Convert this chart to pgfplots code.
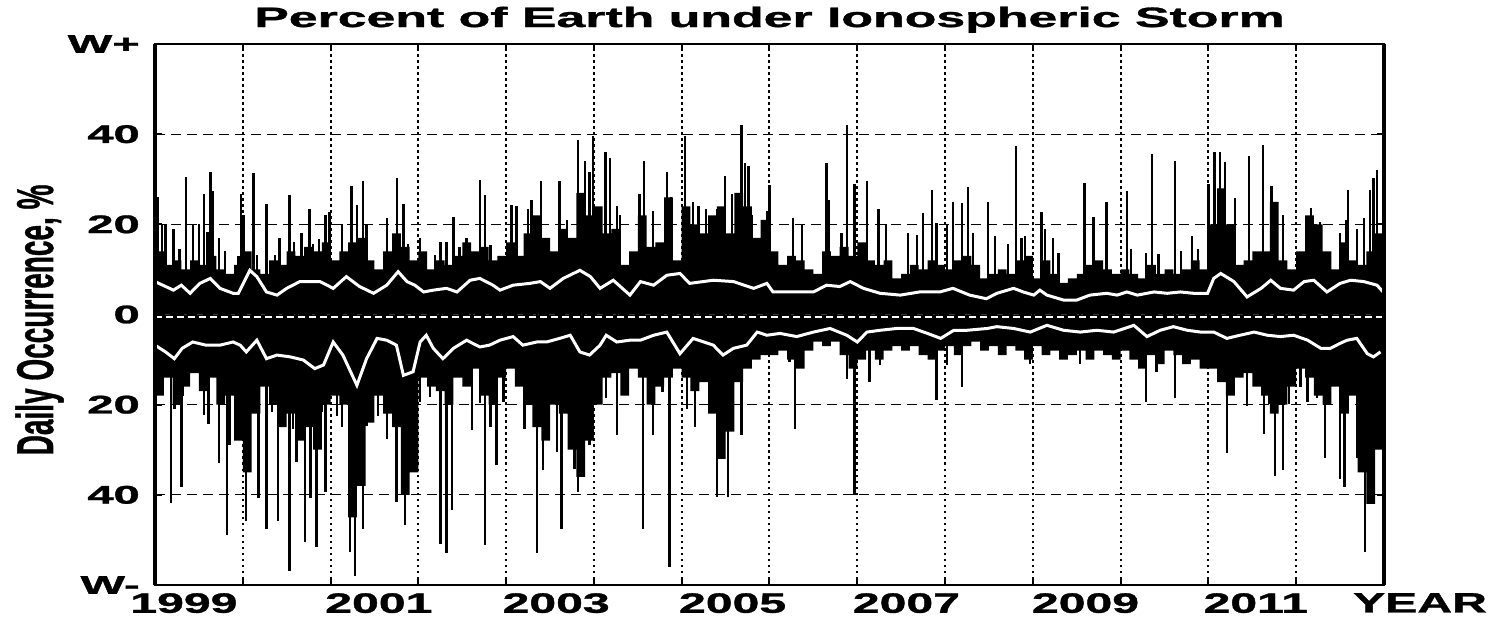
\documentclass[border=0pt]{standalone}
\usepackage{pgfplots}
\pgfplotsset{compat=1.18}
\usepackage{fontspec}
\setmainfont{Liberation Sans}[BoldFeatures={FakeBold=1}]
\newcommand{\ttl}[1]{\scalebox{1.85}[1]{\fontsize{28bp}{30bp}\selectfont\bfseries #1}}
\newcommand{\yt}[1]{\scalebox{1.85}[1]{\fontsize{25.5bp}{26bp}\selectfont\bfseries #1}}
\newcommand{\xt}[1]{\scalebox{1.72}[1]{\fontsize{28bp}{30bp}\selectfont\bfseries #1}}
\newcommand{\yl}[1]{\scalebox{1}[1.85]{\fontsize{28bp}{30bp}\selectfont\bfseries #1}}
\begin{document}
\begin{tikzpicture}
\useasboundingbox (-155bp,-38bp) rectangle (1340bp,585bp);
\begin{axis}[
  at={(0,0)}, anchor=south west,
  scale only axis, width=1229bp, height=541bp,
  xmin=1999, xmax=2013, ymin=-60, ymax=60,
  clip mode=individual,
  xtick={1999,2000,...,2013},
  xticklabels={},
  ytick={-60,-40,-20,0,20,40,60},
  yticklabels={\yt{W-},\yt{40},\yt{20},\yt{0},\yt{20},\yt{40},\yt{W+}},
  extra x ticks={1999.33,2001.55,2003.57,2005.58,2007.56,2009.60,2011.54},
  extra x tick labels={\xt{1999},\xt{2001},\xt{2003},\xt{2005},\xt{2007},\xt{2009},\xt{2011}},
  extra x tick style={grid=none, tick style={draw=none}},
  xmajorgrids, ymajorgrids,
  x grid style={black, line width=2bp, dash pattern=on 2.5bp off 3.5bp},
  y grid style={black, line width=1.3bp, dash pattern=on 10bp off 6bp},
  axis line style={black, line width=2.5bp},
  tick style={black, line width=2bp},
  major tick length=7bp,
  tick align=inside,
  xticklabel style={inner sep=0pt, anchor=north, yshift=-8bp},
  yticklabel style={inner sep=0pt, anchor=east, xshift=-15bp},
  title={\ttl{Percent of Earth under Ionospheric Storm}},
  title style={at={(0.5,1)}, anchor=base, yshift=11bp, inner sep=0pt},
  ylabel={\yl{Daily Occurrence, \%}},
  ylabel style={at={(axis description cs:-0.083,0.49)}, anchor=base, inner sep=0pt},
]
% dense positive envelope
\addplot[const plot, fill=black, draw=none] table {
x y
1999.0 14
1999.1 11
1999.2 12
1999.3 10
1999.4 12
1999.5 11
1999.6 13
1999.7 10
1999.8 9
1999.9 11
2000.0 14
2000.1 10
2000.2 9
2000.3 12
2000.4 11
2000.5 14
2000.6 13
2000.7 15
2000.8 14
2000.9 16
2001.0 12
2001.1 14
2001.2 16
2001.3 17
2001.4 12
2001.5 10
2001.6 14
2001.7 18
2001.8 15
2001.9 12
2002.0 14
2002.1 10
2002.2 12
2002.3 11
2002.4 13
2002.5 16
2002.6 14
2002.7 15
2002.8 12
2002.9 13
2003.0 16
2003.1 13
2003.2 18
2003.3 22
2003.4 17
2003.5 14
2003.6 19
2003.7 17
2003.8 27
2003.9 22
2004.0 24
2004.1 18
2004.2 19
2004.3 11
2004.4 14
2004.5 22
2004.6 15
2004.7 16
2004.8 26
2004.9 12
2005.0 24
2005.1 20
2005.2 18
2005.3 22
2005.4 24
2005.5 18
2005.6 27
2005.7 24
2005.8 17
2005.9 21
2006.0 14
2006.1 11
2006.2 13
2006.3 12
2006.4 10
2006.5 9
2006.6 14
2006.7 13
2006.8 15
2006.9 13
2007.0 16
2007.1 12
2007.2 11
2007.3 12
2007.4 8
2007.5 9
2007.6 11
2007.7 10
2007.8 12
2007.9 11
2008.0 10
2008.1 12
2008.2 13
2008.3 11
2008.4 8
2008.5 9
2008.6 10
2008.7 9
2008.8 12
2008.9 13
2009.0 8
2009.1 12
2009.2 9
2009.3 7
2009.4 8
2009.5 9
2009.6 11
2009.7 12
2009.8 10
2009.9 9
2010.0 10
2010.1 9
2010.2 8
2010.3 11
2010.4 9
2010.5 10
2010.6 9
2010.7 10
2010.8 12
2010.9 10
2011.0 20
2011.1 28
2011.2 20
2011.3 11
2011.4 12
2011.5 14
2011.6 14
2011.7 25
2011.8 12
2011.9 10
2012.0 14
2012.1 22
2012.2 20
2012.3 14
2012.4 10
2012.5 16
2012.6 12
2012.7 11
2012.8 14
2012.9 18
2013.0 18
} \closedcycle;
% dense negative envelope
\addplot[const plot, fill=black, draw=none] table {
x y
1999.0 -18
1999.1 -14
1999.2 -20
1999.3 -16
1999.4 -13
1999.5 -17
1999.6 -14
1999.7 -20
1999.8 -18
1999.9 -28
2000.0 -35
2000.1 -22
2000.2 -16
2000.3 -20
2000.4 -25
2000.5 -22
2000.6 -28
2000.7 -25
2000.8 -30
2000.9 -20
2001.0 -18
2001.1 -20
2001.2 -45
2001.3 -38
2001.4 -24
2001.5 -18
2001.6 -22
2001.7 -25
2001.8 -40
2001.9 -35
2002.0 -14
2002.1 -16
2002.2 -17
2002.3 -20
2002.4 -14
2002.5 -16
2002.6 -12
2002.7 -18
2002.8 -20
2002.9 -14
2003.0 -12
2003.1 -16
2003.2 -20
2003.3 -25
2003.4 -28
2003.5 -20
2003.6 -22
2003.7 -30
2003.8 -36
2003.9 -28
2004.0 -20
2004.1 -14
2004.2 -13
2004.3 -18
2004.4 -12
2004.5 -14
2004.6 -20
2004.7 -16
2004.8 -14
2004.9 -12
2005.0 -14
2005.1 -17
2005.2 -15
2005.3 -22
2005.4 -32
2005.5 -26
2005.6 -15
2005.7 -12
2005.8 -10
2005.9 -9
2006.0 -9
2006.1 -8
2006.2 -10
2006.3 -12
2006.4 -8
2006.5 -6
2006.6 -7
2006.7 -6
2006.8 -9
2006.9 -12
2007.0 -10
2007.1 -8
2007.2 -10
2007.3 -8
2007.4 -7
2007.5 -8
2007.6 -7
2007.7 -9
2007.8 -10
2007.9 -8
2008.0 -7
2008.1 -9
2008.2 -7
2008.3 -6
2008.4 -8
2008.5 -7
2008.6 -9
2008.7 -7
2008.8 -8
2008.9 -10
2009.0 -7
2009.1 -9
2009.2 -8
2009.3 -10
2009.4 -9
2009.5 -8
2009.6 -10
2009.7 -8
2009.8 -9
2009.9 -10
2010.0 -8
2010.1 -10
2010.2 -12
2010.3 -9
2010.4 -11
2010.5 -8
2010.6 -9
2010.7 -11
2010.8 -10
2010.9 -12
2011.0 -12
2011.1 -15
2011.2 -18
2011.3 -14
2011.4 -13
2011.5 -16
2011.6 -18
2011.7 -22
2011.8 -20
2011.9 -16
2012.0 -12
2012.1 -14
2012.2 -18
2012.3 -20
2012.4 -16
2012.5 -22
2012.6 -18
2012.7 -35
2012.8 -42
2012.9 -30
2013.0 -30
} \closedcycle;
% positive daily spikes
\addplot[ycomb, black, line width=2.4bp] table {
x y
1999.03 26
1999.08 20
1999.12 20
1999.21 19
1999.28 14.6
1999.35 30.6
1999.43 20
1999.50 20
1999.56 26.8
1999.60 18.4
1999.63 31.7
1999.66 27.4
1999.73 17
1999.80 14
1999.95 13
1999.98 26.8
2000.01 22
2000.12 31.3
2000.16 13.3
2000.27 24.6
2000.37 13.3
2000.42 17
2000.53 26.4
2000.58 16
2000.67 18
2000.76 23.3
2000.80 15.6
2000.87 16.7
2000.94 22
2000.99 22.8
2001.13 20
2001.24 28.4
2001.30 24.2
2001.37 29.5
2001.41 20
2001.64 21.3
2001.76 30.2
2001.83 24.6
2001.88 15.6
2002.02 17
2002.19 13.3
2002.25 16
2002.32 16
2002.40 21.7
2002.47 15
2002.55 17
2002.70 29.8
2002.76 26.6
2002.82 15.4
2003.06 24.2
2003.12 24
2003.25 23.5
2003.29 25.4
2003.40 29.5
2003.61 29.5
2003.69 21
2003.82 38.6
2003.90 34
2003.95 31.7
2003.99 39.7
2004.13 36
2004.18 34.8
2004.26 24
2004.30 22
2004.52 26.8
2004.57 34
2004.67 23
2004.83 31.7
2004.88 26
2005.04 39.7
2005.13 25
2005.19 24
2005.28 23.5
2005.40 23.5
2005.49 30.8
2005.57 26.8
2005.62 27
2005.68 42.1
2005.72 33.6
2005.76 33
2005.80 22
2005.97 23
2006.00 28.7
2006.27 21.3
2006.37 20
2006.65 33.7
2006.68 25.5
2006.82 18
2006.88 42.1
2006.97 29
2007.11 29.5
2007.24 23.5
2007.33 20
2007.58 18
2007.68 17.7
2007.75 22.5
2007.85 27.7
2007.90 20.3
2008.02 20
2008.09 25
2008.19 24.8
2008.26 28.2
2008.32 18
2008.49 25
2008.57 17.5
2008.72 15.6
2008.81 37.3
2008.87 16.9
2008.91 17.3
2009.10 22.8
2009.14 19
2009.23 17
2009.29 13.7
2009.59 29.2
2009.69 21.6
2009.84 25
2010.07 27.3
2010.12 14.6
2010.29 13.7
2010.36 35.5
2010.43 13.4
2010.62 34.1
2010.69 14
2010.81 17.3
2010.88 14.6
2011.00 29
2011.07 36
2011.13 36
2011.19 33.8
2011.30 25.9
2011.46 35.2
2011.62 37.6
2011.72 28.6
2011.85 22
2012.17 23.6
2012.27 20.5
2012.50 18
2012.57 21
2012.59 27.7
2012.69 19
2012.77 21.4
2012.84 27.6
2012.88 30.3
2012.92 32
};
% negative daily spikes
\addplot[ycomb, black, line width=2.4bp] table {
x y
1999.18 -41.9
1999.22 -20.9
1999.30 -38.2
1999.32 -18
1999.56 -22.4
1999.61 -24.2
1999.73 -33
1999.82 -49
1999.85 -29
2000.04 -45.7
2000.18 -40.8
2000.27 -47.5
2000.33 -21.6
2000.40 -45.7
2000.46 -20.1
2000.53 -56.8
2000.57 -25.3
2000.61 -32.7
2000.71 -50.4
2000.77 -40.8
2000.84 -51.5
2000.90 -21.6
2000.94 -39.3
2001.07 -22.6
2001.13 -25
2001.22 -52.6
2001.28 -57.9
2001.37 -47.5
2001.41 -24.8
2001.54 -22.6
2001.64 -27.7
2001.75 -41.5
2001.85 -46.8
2001.96 -18.6
2002.02 -19.4
2002.13 -18.3
2002.25 -50.8
2002.32 -53
2002.38 -43.4
2002.61 -25.7
2002.70 -19.7
2002.76 -51.2
2002.82 -25
2002.89 -33.4
2002.97 -19.4
2003.21 -25.3
2003.35 -53
2003.42 -34.6
2003.48 -21.4
2003.58 -30.4
2003.63 -47.5
2003.73 -21.4
2003.78 -34.2
2003.82 -39.3
2003.88 -23.3
2003.95 -29
2004.14 -18.6
2004.26 -26.8
2004.56 -47.5
2004.67 -26.8
2004.78 -17.3
2004.86 -55.9
2005.06 -20.9
2005.15 -24.9
2005.40 -40.4
2005.45 -30.4
2005.53 -40.4
2005.68 -26.8
2006.23 -10.5
2006.29 -25.3
2006.88 -14.2
2006.97 -40.1
2007.14 -14.9
2007.26 -11.2
2007.90 -19
2008.02 -11.2
2008.19 -16
2008.97 -10.9
2009.54 -11
2010.29 -19.4
2010.41 -12.8
2010.62 -18.6
2011.06 -11.2
2011.21 -30.8
2011.25 -17.7
2011.44 -20.4
2011.63 -26.4
2011.69 -19.8
2011.76 -35.9
2011.85 -34.6
2011.92 -19.8
2012.05 -16
2012.13 -19.4
2012.24 -18.6
2012.33 -31.9
2012.50 -36.4
2012.55 -38.2
2012.69 -31.9
2012.78 -52.6
2012.86 -40.8
2012.88 -30.4
2012.92 -28
};
% positive running mean (white)
\addplot[white, line width=3bp] table {
x y
1999.00 7.3
1999.21 5.4
1999.30 6.5
1999.40 4.7
1999.51 6.9
1999.63 8.0
1999.74 5.8
1999.89 4.7
1999.95 4.7
2000.08 9.8
2000.16 8.4
2000.27 5.0
2000.39 4.3
2000.50 5.8
2000.65 7.3
2000.88 7.3
2001.03 5.8
2001.18 8.4
2001.33 6.2
2001.49 4.7
2001.64 6.5
2001.77 9.5
2001.87 7.3
2001.96 6.5
2002.06 5.0
2002.17 5.4
2002.32 5.8
2002.44 5.0
2002.59 7.6
2002.70 8.0
2002.85 6.5
2002.93 5.4
2003.08 6.5
2003.27 6.9
2003.39 7.3
2003.50 5.8
2003.65 8.0
2003.84 9.8
2003.96 8.4
2004.07 5.8
2004.22 7.6
2004.41 4.3
2004.53 7.3
2004.68 6.5
2004.83 8.7
2004.98 9.1
2005.09 6.9
2005.36 7.6
2005.59 7.3
2005.82 5.8
2005.97 6.9
2006.04 5.0
2006.35 5.0
2006.50 5.0
2006.65 6.5
2006.80 6.2
2006.92 7.3
2007.07 5.8
2007.26 4.7
2007.49 4.3
2007.71 5.0
2007.94 5.0
2008.09 5.8
2008.28 4.3
2008.47 3.5
2008.59 4.7
2008.78 5.8
2008.89 5.0
2009.01 4.3
2009.08 5.4
2009.16 4.3
2009.35 3.2
2009.50 3.2
2009.65 4.3
2009.84 4.7
2009.96 4.3
2010.07 5.0
2010.19 4.3
2010.38 5.0
2010.53 4.7
2010.68 5.0
2010.83 4.7
2010.99 4.7
2011.06 8.0
2011.14 9.1
2011.29 7.3
2011.44 3.9
2011.60 5.8
2011.71 7.6
2011.82 5.8
2011.97 5.4
2012.09 7.3
2012.20 7.6
2012.35 5.0
2012.50 6.9
2012.62 7.6
2012.77 7.3
2012.92 6.5
2012.99 5.0
};
% negative running mean (white)
\addplot[white, line width=3bp] table {
x y
1999.00 -6.8
1999.12 -8.3
1999.22 -9.8
1999.31 -7.5
1999.43 -6.1
1999.58 -6.8
1999.74 -6.8
1999.89 -6.1
1999.97 -6.8
2000.04 -8.3
2000.16 -5.7
2000.27 -9.8
2000.39 -9.0
2000.54 -9.4
2000.69 -10.1
2000.82 -12.0
2000.92 -11.2
2001.03 -6.1
2001.14 -9.0
2001.30 -15.7
2001.41 -9.8
2001.53 -5.3
2001.64 -5.7
2001.75 -6.8
2001.83 -13.5
2001.94 -12.7
2002.02 -6.1
2002.09 -4.6
2002.17 -7.5
2002.28 -9.8
2002.40 -7.5
2002.55 -5.7
2002.70 -7.2
2002.81 -6.8
2002.93 -5.7
2003.08 -4.9
2003.19 -6.8
2003.35 -6.1
2003.46 -6.1
2003.61 -5.3
2003.73 -4.6
2003.84 -8.3
2003.95 -9.0
2004.07 -6.8
2004.14 -4.6
2004.26 -6.1
2004.41 -5.7
2004.53 -5.7
2004.68 -4.6
2004.83 -3.9
2004.98 -8.7
2005.13 -5.3
2005.36 -6.8
2005.47 -9.0
2005.59 -7.5
2005.74 -6.8
2005.86 -3.9
2005.97 -4.6
2006.12 -4.2
2006.31 -4.9
2006.50 -3.9
2006.69 -3.1
2006.88 -4.6
2007.00 -6.1
2007.11 -3.9
2007.26 -3.5
2007.45 -3.1
2007.64 -3.1
2007.80 -4.2
2007.95 -5.3
2008.10 -3.5
2008.25 -3.5
2008.48 -3.1
2008.59 -2.7
2008.78 -3.1
2008.97 -3.9
2009.16 -2.4
2009.35 -3.5
2009.54 -3.9
2009.73 -3.5
2009.92 -3.9
2010.15 -2.4
2010.30 -4.9
2010.45 -3.5
2010.60 -2.7
2010.76 -3.5
2010.91 -3.9
2011.06 -3.9
2011.21 -5.3
2011.36 -4.6
2011.52 -3.9
2011.67 -4.6
2011.82 -4.9
2011.97 -4.6
2012.13 -5.7
2012.28 -7.5
2012.39 -7.5
2012.50 -6.4
2012.58 -5.7
2012.69 -5.3
2012.81 -8.7
2012.88 -9.4
2012.96 -8.3
};
% white trace near zero
\addplot[white, line width=1.6bp, dash pattern=on 7bp off 4bp] table {
x y
1999.00 -0.6
2013.00 -0.6
};
\draw[black, line width=4.5bp] (rel axis cs:0,0) -- (rel axis cs:0,1);
\draw[black, line width=4.5bp] (rel axis cs:1,0) -- (rel axis cs:1,1);
\node[anchor=north, inner sep=0pt, yshift=-8bp] at (axis cs:2013.41,-60) {\xt{YEAR}};
\end{axis}
\end{tikzpicture}
\end{document}
